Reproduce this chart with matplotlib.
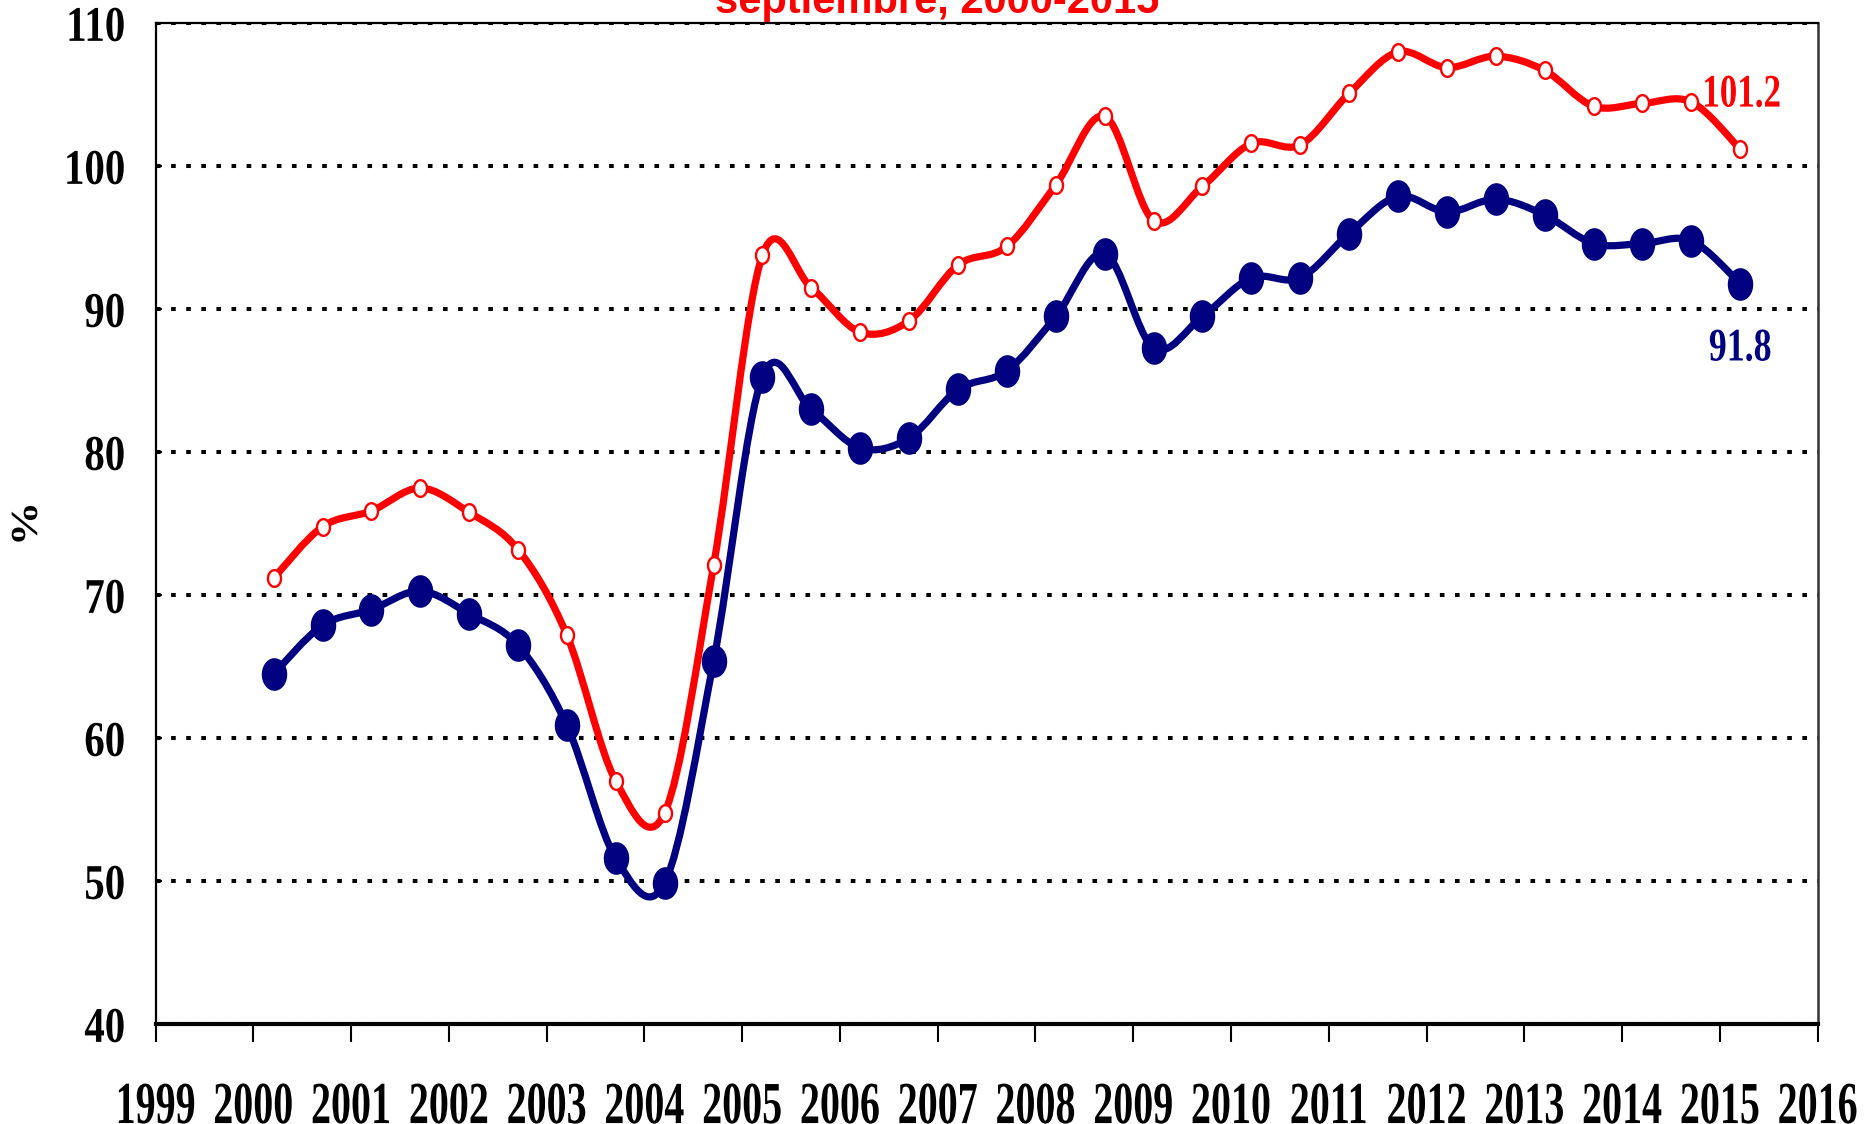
import matplotlib
matplotlib.use("Agg")
import matplotlib.pyplot as plt
from matplotlib.path import Path
from matplotlib.patches import PathPatch
from matplotlib.patheffects import AbstractPathEffect
from matplotlib.transforms import Affine2D
import numpy as np

# ---------------- data ----------------
years = list(range(2000, 2016))
months = [3, 9]  # marzo, septiembre
red_values = [71.2, 74.8, 75.9, 77.5, 75.8, 73.2, 67.2, 57.0, 54.8, 72.1,
              93.8, 91.5, 88.4, 89.2, 93.1, 94.4, 98.7, 103.5, 96.2, 98.6,
              101.6, 101.5, 105.1, 108.0, 106.9, 107.7, 106.7, 104.2, 104.4, 104.5,
              101.2]
blue_values = [64.5, 67.9, 69.0, 70.3, 68.7, 66.5, 60.9, 51.6, 49.9, 65.4,
               85.3, 83.0, 80.3, 81.0, 84.4, 85.7, 89.5, 93.9, 87.3, 89.5,
               92.2, 92.2, 95.3, 97.9, 96.8, 97.7, 96.6, 94.6, 94.6, 94.8,
               91.8]
x_ticks = list(range(1999, 2017))
y_ticks = list(range(40, 111, 10))
title_text = "septiembre, 2000-2015"
y_label = "%"

# positions of the observations (middle of each month)
dates = [y + (m - 0.5) / 12 for y in years for m in months][:len(red_values)]

RED = "#FF0000"
NAVY = "#000080"
SERIF = "Liberation Serif"


class Stretch(AbstractPathEffect):
    """Scale glyph outlines (tall condensed look) about an anchor of the ink box."""
    def __init__(self, sx=1.0, sy=1.0, anchor="center"):
        super().__init__()
        self.sx, self.sy, self.anchor = sx, sy, anchor

    def draw_path(self, renderer, gc, tpath, affine, rgbFace=None):
        ext = tpath.get_extents()
        if self.anchor == "right":
            ax_ = ext.x1
        elif self.anchor == "left":
            ax_ = ext.x0
        else:
            ax_ = 0.5 * (ext.x0 + ext.x1)
        ay = 0.5 * (ext.y0 + ext.y1)
        t = Affine2D().translate(-ax_, -ay).scale(self.sx, self.sy).translate(ax_, ay)
        renderer.draw_path(gc, tpath, t + affine, rgbFace)


def smooth_path(xs, ys):
    """Excel-like smoothed line: cubic Bezier through the points."""
    pts = np.column_stack([xs, ys]).astype(float)
    n = len(pts)
    verts = [pts[0]]
    codes = [Path.MOVETO]
    for i in range(n - 1):
        p0 = pts[i - 1] if i > 0 else pts[i]
        p1 = pts[i]
        p2 = pts[i + 1]
        p3 = pts[i + 2] if i + 2 < n else pts[i + 1]
        c1 = p1 + (p2 - p0) / 6.0
        c2 = p2 - (p3 - p1) / 6.0
        verts += [c1, c2, p2]
        codes += [Path.CURVE4] * 3
    return Path(np.array(verts), codes)


# elliptical marker (taller than wide, as in the reference)
theta = np.linspace(0, 2 * np.pi, 60)
ellipse = Path(np.column_stack([0.78 * np.cos(theta), np.sin(theta)]), closed=True)

fig = plt.figure(figsize=(18.75, 11.24), dpi=100)
ax = fig.add_axes([155.5 / 1875, 1 - 1024.3 / 1124, (1817.6 - 155.5) / 1875, (1024.3 - 23.3) / 1124])

ax.set_xlim(1999, 2016)
ax.set_ylim(40, 110)

# grid
ax.set_axisbelow(True)
ax.yaxis.grid(True, color="black", linewidth=2.9, linestyle=(0, (1.15, 2.6)))
ax.xaxis.grid(False)

# lines
for vals, col in [(red_values, RED), (blue_values, NAVY)]:
    ax.add_patch(PathPatch(smooth_path(dates, vals), facecolor="none", edgecolor=col,
                           linewidth=5.2, transform=ax.transData, zorder=3,
                           capstyle="round", joinstyle="round"))

ax.plot(dates, red_values, linestyle="none", marker=ellipse, markersize=12,
        markerfacecolor="white", markeredgecolor=RED, markeredgewidth=1.7, zorder=4)
ax.plot(dates, blue_values, linestyle="none", marker=ellipse, markersize=23.5,
        markerfacecolor=NAVY, markeredgecolor=NAVY, markeredgewidth=0, zorder=4)

# end labels
ax.annotate(f"{red_values[-1]:.1f}", (dates[-1], red_values[-1]), xytext=(1, 39),
            textcoords="offset points", ha="center", va="center", color=RED,
            fontsize=30, fontfamily=SERIF, fontweight="bold",
            path_effects=[Stretch(sx=0.84, sy=1.12)])
ax.annotate(f"{blue_values[-1]:.1f}", (dates[-1], blue_values[-1]), xytext=(0, -47),
            textcoords="offset points", ha="center", va="center", color=NAVY,
            fontsize=30, fontfamily=SERIF, fontweight="bold",
            path_effects=[Stretch(sx=0.86, sy=1.12)])

# axes styling
ax.set_xticks(x_ticks)
ax.set_xticklabels([str(v) for v in x_ticks])
ax.set_yticks(y_ticks)
ax.set_yticklabels([str(v) for v in y_ticks])
ax.tick_params(axis="x", direction="out", length=13, width=1.5, pad=33,
               labelsize=30)
ax.tick_params(axis="y", direction="in", length=4, width=1.5, pad=22,
               labelsize=27)
for lab in ax.get_xticklabels():
    lab.set_fontfamily(SERIF)
    lab.set_fontweight("bold")
    lab.set_path_effects([Stretch(sx=0.96, sy=1.43)])
for lab in ax.get_yticklabels():
    lab.set_fontfamily(SERIF)
    lab.set_fontweight("bold")
    lab.set_path_effects([Stretch(sx=1.09, sy=1.33, anchor="right")])

for side in ["left", "top"]:
    ax.spines[side].set_linewidth(1.6)
    ax.spines[side].set_color("black")
ax.spines["right"].set_linewidth(1.8)
ax.spines["right"].set_color("#333333")
ax.spines["bottom"].set_linewidth(3.0)
ax.spines["bottom"].set_color("black")

fig.text(28 / 1875, 1 - 524 / 1124, y_label, rotation=90, ha="center", va="center",
         fontsize=32, fontfamily=SERIF, fontweight="bold",
         path_effects=[Stretch(sx=1.0, sy=0.85)])

fig.text(0.5, 1 - 13 / 1124, title_text, ha="center", va="baseline", color=RED,
         fontsize=30, fontfamily="Liberation Sans", fontweight="bold")

fig.savefig("out.png", dpi=100, facecolor="white")
